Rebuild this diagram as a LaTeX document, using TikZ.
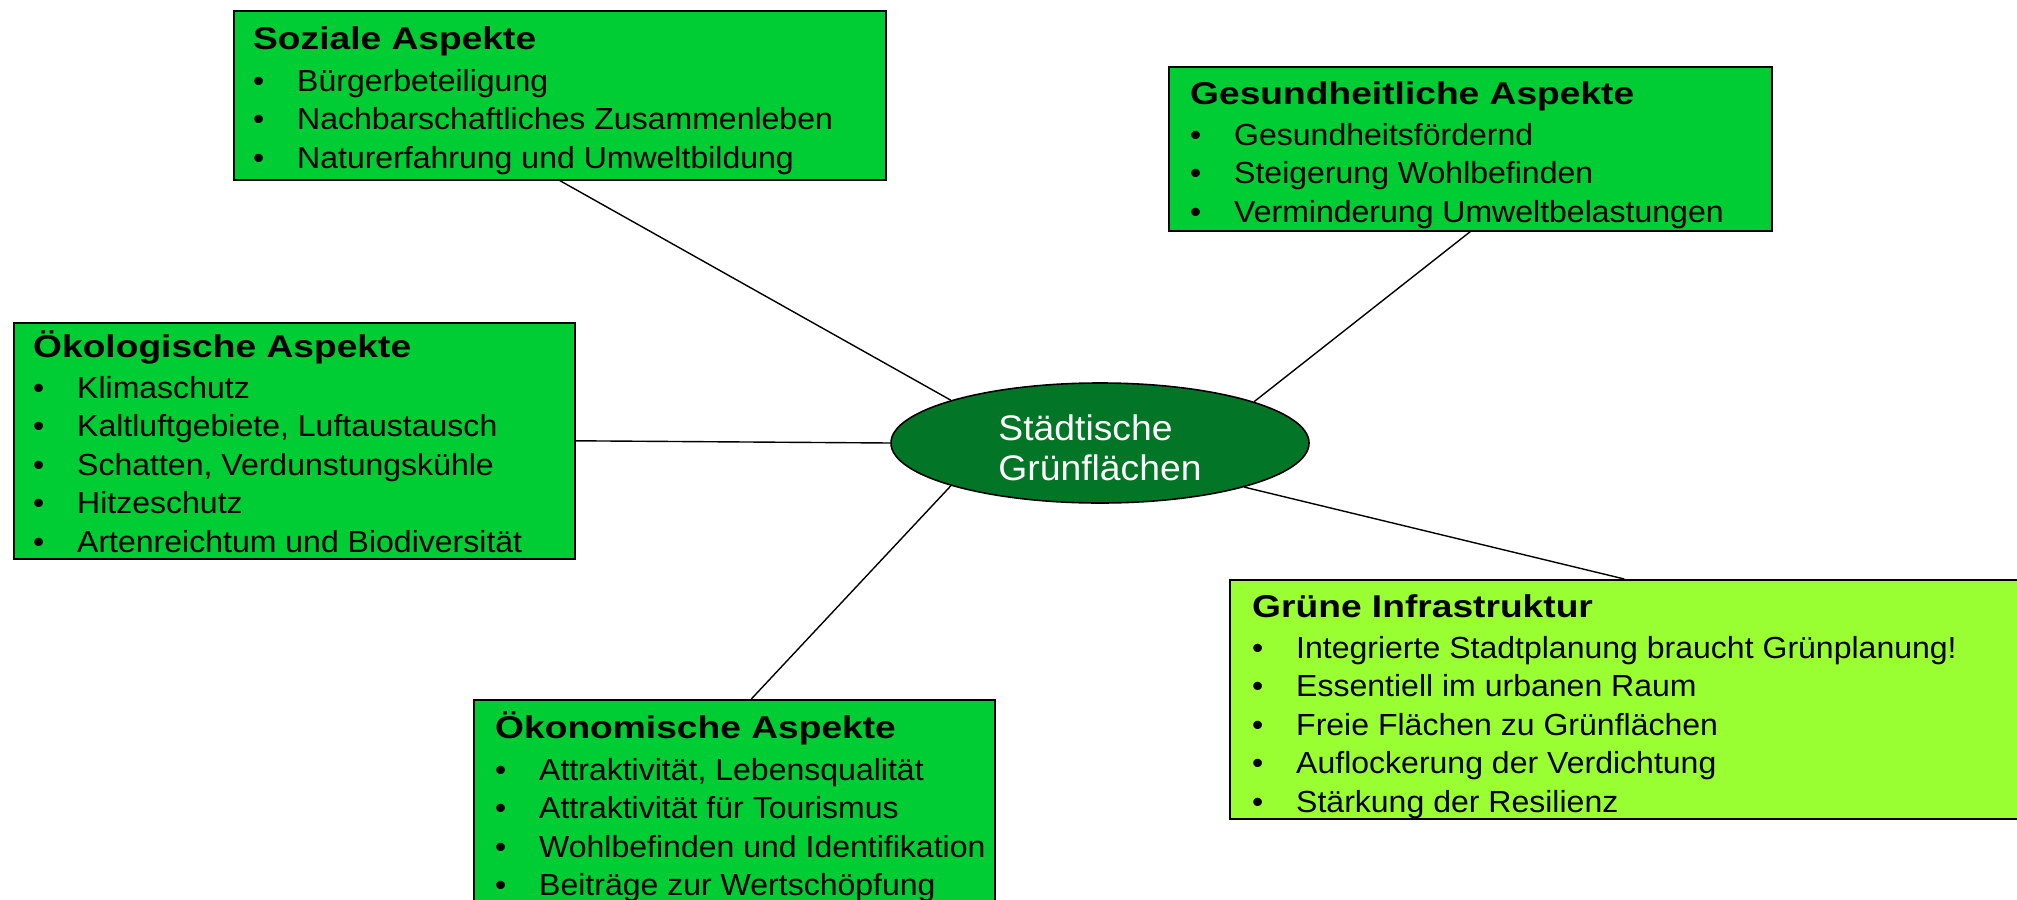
\documentclass[tikz,border=0pt]{standalone}
\usepackage{fontspec}
\setmainfont{Liberation Sans}[FakeStretch=1.05]
\newfontface\ttlfont{Liberation Sans Bold}[FakeStretch=1.18]
\usetikzlibrary{shapes.geometric,calc}
\definecolor{boxgreen}{RGB}{0,204,51}
\definecolor{limegreen}{RGB}{153,255,51}
\definecolor{darkgreen}{RGB}{2,118,38}
\newcommand{\bul}[1]{\makebox[44pt][l]{\textbullet}#1}
\newcommand{\ttl}[1]{{\ttlfont\fontsize{31.5}{38.5}\selectfont #1}}
\tikzset{
  aspectbox/.style={draw=black, line width=1.6pt, fill=boxgreen, rectangle, anchor=north west, inner sep=0pt},
  txt/.style={anchor=base west, inner sep=0pt, font=\fontsize{30.5}{38.5}\selectfont},
  conn/.style={draw=black, line width=1.4pt},
  center/.style={ellipse, draw=black, line width=1.6pt, fill=darkgreen, minimum width=418pt, minimum height=120pt, inner sep=0pt},
  ctext/.style={text=white, inner sep=0pt, font=\fontsize{35.5}{40}\selectfont}
}
\begin{document}
\begin{tikzpicture}[x=1pt,y=-1pt]
\useasboundingbox (0,0) rectangle (2017,899);
% boxes
\node[aspectbox, minimum width=652pt, minimum height=169pt] (soz) at (233,10) {};
\node[aspectbox, minimum width=603pt, minimum height=164pt] (ges) at (1168,66) {};
\node[aspectbox, minimum width=561pt, minimum height=236pt] (oek) at (13,322) {};
\node[aspectbox, minimum width=521pt, minimum height=206pt] (okn) at (473,699) {};
\node[aspectbox, fill=limegreen, minimum width=789pt, minimum height=239pt] (gru) at (1229,579) {};
% centre
\node[center] (c) at (1100,443) {};
\node[ctext] (ctxt) at (1100,452) {\begin{tabular}{@{}l@{}}Städtische\\Grünflächen\end{tabular}};
% texts
\node[txt] (soztxt) at ($(soz.north west)+(20,40)$) {\begin{tabular}[t]{@{}l@{}}\ttl{Soziale Aspekte}\\[2.5pt]
\bul{Bürgerbeteiligung}\\
\bul{Nachbarschaftliches Zusammenleben}\\
\bul{Naturerfahrung und Umweltbildung}\end{tabular}};
\node[txt] (gestxt) at ($(ges.north west)+(22,38)$) {\begin{tabular}[t]{@{}l@{}}\ttl{Gesundheitliche Aspekte}\\[2.5pt]
\bul{Gesundheitsfördernd}\\
\bul{Steigerung Wohlbefinden}\\
\bul{Verminderung Umweltbelastungen}\end{tabular}};
\node[txt] (oektxt) at ($(oek.north west)+(20,35)$) {\begin{tabular}[t]{@{}l@{}}\ttl{Ökologische Aspekte}\\[2.5pt]
\bul{Klimaschutz}\\
\bul{Kaltluftgebiete, Luftaustausch}\\
\bul{Schatten, Verdunstungskühle}\\
\bul{Hitzeschutz}\\
\bul{Artenreichtum und Biodiversität}\end{tabular}};
\node[txt] (okntxt) at ($(okn.north west)+(22,39)$) {\begin{tabular}[t]{@{}l@{}}\ttl{Ökonomische Aspekte}\\[3.5pt]
\bul{Attraktivität, Lebensqualität}\\
\bul{Attraktivität für Tourismus}\\
\bul{Wohlbefinden und Identifikation}\\
\bul{Beiträge zur Wertschöpfung}\end{tabular}};
\node[txt] (grutxt) at ($(gru.north west)+(23,38)$) {\begin{tabular}[t]{@{}l@{}}\ttl{Grüne Infrastruktur}\\[2.5pt]
\bul{Integrierte Stadtplanung braucht Grünplanung!}\\
\bul{Essentiell im urbanen Raum}\\
\bul{Freie Flächen zu Grünflächen}\\
\bul{Auflockerung der Verdichtung}\\
\bul{Stärkung der Resilienz}\end{tabular}};
% connectors
\draw[conn] (soz.south) -- (c.164);
\draw[conn] (ges.south) -- (c.15);
\draw[conn] (oek.east) -- (c.180);
\draw[conn] ([xshift=17pt]okn.north) -- (c.196.5);
\draw[conn] (gru.north) -- (c.343.5);
\end{tikzpicture}
\end{document}
